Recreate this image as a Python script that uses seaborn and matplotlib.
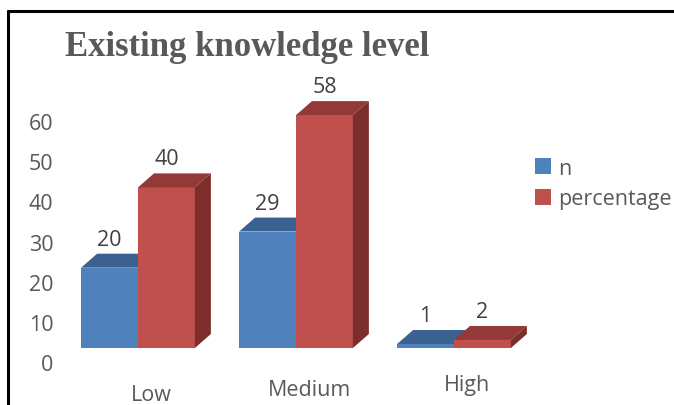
import matplotlib
matplotlib.use("Agg")
import matplotlib.pyplot as plt
import seaborn as sns
import pandas as pd
from matplotlib.patches import Polygon
from matplotlib.lines import Line2D
from matplotlib.transforms import IdentityTransform, ScaledTranslation

# ---- data ----
categories = ["Low", "Medium", "High"]
n_values = [20, 29, 1]
percentage_values = [40, 58, 2]
series_names = ["n", "percentage"]
y_ticks = [0, 10, 20, 30, 40, 50, 60]
title_text = "Existing knowledge level"

df = pd.DataFrame({
    "level": categories * 2,
    "value": n_values + percentage_values,
    "series": [series_names[0]] * len(categories) + [series_names[1]] * len(categories),
})
values_by_series = [n_values, percentage_values]

sns.set_theme(style="white")
plt.rcParams["font.family"] = ["Open Sans", "DejaVu Sans"]

front_col = {"n": "#4F81BD", "percentage": "#C0504D"}
top_col = {"n": "#3B6190", "percentage": "#933A38"}
side_col = {"n": "#33557F", "percentage": "#7B2E2C"}
text_col = "#595959"
fs = 15.5

W, H = 674, 406
fig = plt.figure(figsize=(W / 100, H / 100), dpi=100)
fig.patch.set_facecolor("white")
ax = fig.add_axes([59 / W, (H - 349) / H, 474 / W, 261 / H])

sns.barplot(data=df, x="level", y="value", hue="series", palette=front_col,
            width=0.72, saturation=1, edgecolor="none", ax=ax, legend=True)

ax.set_xlim(-0.5, 2.5)
ax.set_ylim(0, 65)
ax.set_yticks(y_ticks)
ax.set_xlabel("")
ax.set_ylabel("")
for s in ax.spines.values():
    s.set_visible(False)
ax.tick_params(axis="both", length=0, labelsize=fs, colors=text_col)
ax.tick_params(axis="y", pad=4)
ax.tick_params(axis="x", pad=22)
# perspective floor offset of the tick labels
for lab in ax.get_yticklabels():
    lab.set_transform(lab.get_transform() + ScaledTranslation(0, -14 / 100, fig.dpi_scale_trans))
for k, lab in enumerate(ax.get_xticklabels()):
    lab.set_transform(lab.get_transform() +
                      ScaledTranslation(13 / 100, (k - 1) * 5 / 100, fig.dpi_scale_trans))

# ---- 3D faces ----
dx, dy = 16, 14  # pixels
ident = IdentityTransform()
for i, (cont, name) in enumerate(zip(ax.containers, series_names)):
    for bar, val in zip(cont, values_by_series[i]):
        bar.set_zorder(2 + i)
        x0 = bar.get_x()
        w = bar.get_width()
        h = bar.get_height()
        (px0, py0) = ax.transData.transform((x0, 0))
        (px1, py1) = ax.transData.transform((x0 + w, h))
        topf = Polygon([(px0, py1), (px1, py1), (px1 + dx, py1 + dy), (px0 + dx, py1 + dy)],
                       closed=True, facecolor=top_col[name], edgecolor="none",
                       transform=ident, clip_on=False, zorder=2 + i)
        sidef = Polygon([(px1, py0), (px1, py1), (px1 + dx, py1 + dy), (px1 + dx, py0 + dy)],
                        closed=True, facecolor=side_col[name], edgecolor="none",
                        transform=ident, clip_on=False, zorder=2 + i)
        ax.add_patch(topf)
        ax.add_patch(sidef)
        ax.annotate(f"{val}", xy=(x0 + w / 2, h), xytext=(0, dy + 4),
                    textcoords="offset pixels", ha="center", va="bottom",
                    fontsize=fs, color="#404040", zorder=5)

# ---- legend ----
handles, labels = ax.get_legend_handles_labels()
ax.legend(handles, labels, loc="upper left", bbox_to_anchor=(526 / W, 1 - 150 / H),
          bbox_transform=fig.transFigure, frameon=False, fontsize=fs,
          handlelength=0.75, handleheight=0.75, handletextpad=0.35,
          labelspacing=0.45, labelcolor=text_col, borderaxespad=0)

# ---- title ----
fig.text(65 / W, 1 - 56 / H, title_text, family="Liberation Serif", weight="bold",
         fontsize=25, color=text_col, ha="left", va="baseline")

# ---- frame lines (top and left) ----
fig.add_artist(Line2D([8 / W, 1], [1 - 12 / H, 1 - 12 / H], transform=fig.transFigure,
                      color="black", linewidth=2.2))
fig.add_artist(Line2D([8 / W, 8 / W], [0, 1 - 12 / H], transform=fig.transFigure,
                      color="black", linewidth=2.2))

fig.savefig("out.png", dpi=100)
